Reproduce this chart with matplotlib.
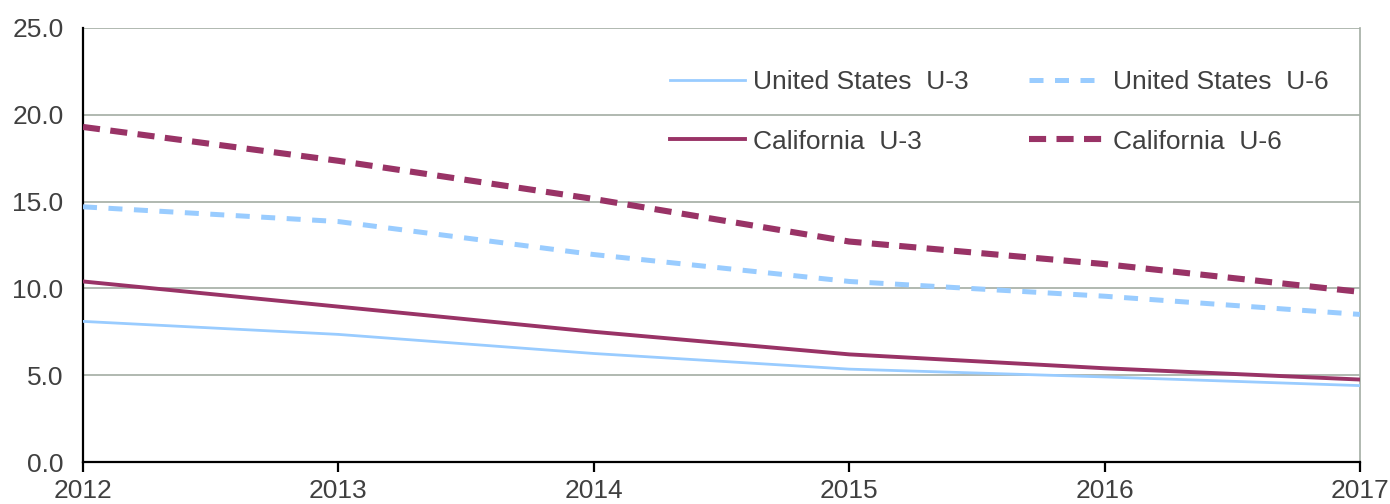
import matplotlib.pyplot as plt
from matplotlib.ticker import FormatStrFormatter

# Unemployment rates (%)
years = [2012, 2013, 2014, 2015, 2016, 2017]
us_u3 = [8.1, 7.35, 6.25, 5.35, 4.9, 4.4]
us_u6 = [14.7, 13.85, 11.95, 10.4, 9.55, 8.5]
ca_u3 = [10.4, 8.95, 7.5, 6.2, 5.4, 4.75]
ca_u6 = [19.3, 17.35, 15.15, 12.7, 11.4, 9.8]

labels = ["United States  U-3", "California  U-3",
          "United States  U-6", "California  U-6"]

LIGHT_BLUE = "#99ccff"
MAROON = "#993366"

plt.rcParams['font.family'] = ['Liberation Sans Narrow', 'Liberation Sans', 'DejaVu Sans']

fig = plt.figure(figsize=(13.9, 5.04), dpi=100)
ax = fig.add_axes([83/1390, 1-462/504, (1360-83)/1390, (462-28)/504])

ax.plot(years, us_u3, color=LIGHT_BLUE, lw=2.0, label=labels[0], zorder=3)
ax.plot(years, ca_u3, color=MAROON, lw=2.8, label=labels[1], zorder=4)
ax.plot(years, us_u6, color=LIGHT_BLUE, lw=3.6, dashes=(2.8, 2.3),
        label=labels[2], zorder=3)
ax.plot(years, ca_u6, color=MAROON, lw=4.4, dashes=(2.8, 1.7),
        label=labels[3], zorder=4)

ax.set_xlim(2012, 2017)
ax.set_ylim(0, 25)
ax.set_yticks([0, 5, 10, 15, 20, 25])
ax.set_xticks(years)
ax.yaxis.set_major_formatter(FormatStrFormatter('%.1f'))

ax.grid(axis='y', color='#a3ada3', lw=1.2)
ax.set_axisbelow(True)

for side in ['left', 'bottom']:
    ax.spines[side].set_color('black')
    ax.spines[side].set_linewidth(1.6)
ax.spines['top'].set_visible(False)
ax.spines['right'].set_color('#a3ada3')
ax.spines['right'].set_linewidth(1.2)

ax.tick_params(axis='y', length=0, pad=14, labelsize=19, labelcolor='#404040')
ax.tick_params(axis='x', length=7, width=1.6, pad=5, labelsize=19,
               labelcolor='#404040', direction='out')

leg = ax.legend(ncol=2, loc='upper left',
                bbox_to_anchor=(670/1390, 1-70/504), bbox_transform=fig.transFigure,
                frameon=False, fontsize=19, handlelength=2.85, handletextpad=0.3,
                columnspacing=2.3, labelspacing=1.35, borderpad=0, borderaxespad=0)
for t in leg.get_texts():
    t.set_color('#404040')

fig.savefig('out.png', dpi=100)
